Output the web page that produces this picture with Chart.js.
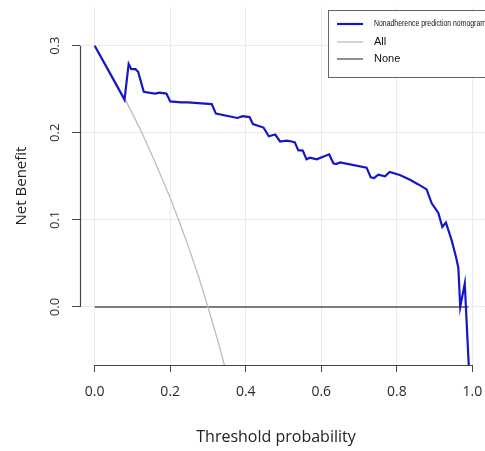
<!DOCTYPE html>
<html>
<head>
<meta charset="utf-8">
<script src="https://cdn.jsdelivr.net/npm/chart.js@4.4.1/dist/chart.umd.min.js"></script>
<style>
  html, body { margin: 0; padding: 0; background: #fff; }
  #wrap { width: 485px; height: 451px; }
</style>
</head>
<body>
<div id="wrap"><canvas id="dca"></canvas></div>
<script>
// threshold probabilities and net benefit
const nomoX = [0, 0.079, 0.090, 0.097, 0.108, 0.115, 0.130, 0.159, 0.172, 0.190, 0.200, 0.229, 0.247, 0.274,
  0.310, 0.321, 0.378, 0.392, 0.410, 0.419, 0.447, 0.461, 0.478, 0.491, 0.508, 0.522, 0.530, 0.539, 0.551,
  0.561, 0.570, 0.588, 0.621, 0.632, 0.639, 0.650, 0.720, 0.731, 0.740, 0.751, 0.769, 0.781, 0.808, 0.835,
  0.856, 0.879, 0.8925, 0.910, 0.9206, 0.930, 0.945, 0.957, 0.963, 0.968, 0.980, 0.9915];
const nomoY = [0.300, 0.238, 0.279, 0.273, 0.273, 0.270, 0.247, 0.245, 0.246, 0.245, 0.236, 0.235, 0.235, 0.234,
  0.233, 0.222, 0.217, 0.219, 0.218, 0.210, 0.206, 0.196, 0.198, 0.190, 0.191, 0.190, 0.189, 0.180, 0.1795,
  0.1695, 0.1714, 0.1695, 0.1753, 0.165, 0.164, 0.166, 0.160, 0.149, 0.148, 0.152, 0.150, 0.155, 0.1515, 0.146,
  0.141, 0.135, 0.119, 0.108, 0.092, 0.097, 0.077, 0.057, 0.045, 0.000, 0.027, -0.075];

const allX = [0, 0.025, 0.05, 0.075, 0.1, 0.125, 0.15, 0.175, 0.2, 0.225, 0.25, 0.275, 0.3, 0.325, 0.35];
const allY = [0.300, 0.282, 0.263, 0.243, 0.222, 0.200, 0.176, 0.151, 0.125, 0.097, 0.067, 0.035, 0.000, -0.037, -0.077];

const noneX = [0, 0.99];
const noneY = [0, 0];

const labels = ['Nonadherence prediction nomogram', 'All', 'None'];
const xTicks = [0, 0.2, 0.4, 0.6, 0.8, 1.0];
const yTicks = [0, 0.1, 0.2, 0.3];

const pts = (xs, ys) => xs.map((v, i) => ({ x: v, y: ys[i] }));

// R style axes: lines only between first and last tick, rotated y labels, boxed legend
const rStyle = {
  id: 'rStyle',
  afterDraw(chart) {
    const { ctx, chartArea, scales: { x, y } } = chart;
    ctx.save();
    ctx.strokeStyle = '#444';
    ctx.lineWidth = 1.2;
    ctx.beginPath();
    ctx.moveTo(x.getPixelForValue(xTicks[0]), chartArea.bottom + 0.5);
    ctx.lineTo(x.getPixelForValue(xTicks[xTicks.length - 1]), chartArea.bottom + 0.5);
    ctx.moveTo(chartArea.left + 0.5, y.getPixelForValue(yTicks[0]));
    ctx.lineTo(chartArea.left + 0.5, y.getPixelForValue(yTicks[yTicks.length - 1]));
    ctx.stroke();

    ctx.fillStyle = '#2a2a2a';
    ctx.font = '13px "Open Sans"';
    ctx.textAlign = 'center';
    ctx.textBaseline = 'middle';
    yTicks.forEach(v => {
      ctx.save();
      ctx.translate(55, y.getPixelForValue(v));
      ctx.rotate(-Math.PI / 2);
      ctx.fillText(v.toFixed(1), 0, 0);
      ctx.restore();
    });

    // x axis title
    ctx.fillStyle = '#222';
    ctx.font = '16px "Open Sans"';
    ctx.fillText('Threshold probability', 276, 437);

    // legend
    ctx.fillStyle = '#fff';
    ctx.fillRect(328.5, 10.5, 170, 67);
    ctx.strokeStyle = '#666';
    ctx.lineWidth = 1;
    ctx.strokeRect(328.5, 10.5, 170, 67);
    const rows = [24, 42, 59];
    chart.data.datasets.forEach((ds, i) => {
      ctx.strokeStyle = ds.borderColor;
      ctx.lineWidth = ds.borderWidth;
      ctx.beginPath();
      ctx.moveTo(337, rows[i]);
      ctx.lineTo(363, rows[i]);
      ctx.stroke();
      ctx.fillStyle = '#111';
      ctx.textAlign = 'left';
      if (i === 0) {
        ctx.font = '9px "Liberation Sans"';
        const w = ctx.measureText(ds.label).width;
        ctx.save();
        ctx.translate(374, rows[i]);
        ctx.scale(112 / w, 1);
        ctx.fillText(ds.label, 0, 0);
        ctx.restore();
      } else {
        ctx.font = '11px "Liberation Sans"';
        ctx.fillText(ds.label, 374, rows[i]);
      }
    });
    ctx.restore();
  }
};

new Chart(document.getElementById('dca'), {
  type: 'line',
  data: {
    datasets: [
      {
        label: labels[0],
        data: pts(nomoX, nomoY),
        borderColor: '#1616c8',
        borderWidth: 2.2,
        pointRadius: 0,
        tension: 0
      },
      {
        label: labels[1],
        data: pts(allX, allY),
        borderColor: '#bdbdbd',
        borderWidth: 1.3,
        pointRadius: 0,
        tension: 0
      },
      {
        label: labels[2],
        data: pts(noneX, noneY),
        borderColor: '#555',
        borderWidth: 1.3,
        pointRadius: 0,
        tension: 0
      }
    ]
  },
  options: {
    responsive: true,
    maintainAspectRatio: false,
    animation: false,
    layout: { padding: { top: 7, left: 0, right: 0, bottom: 0 } },
    plugins: { legend: { display: false }, tooltip: { enabled: false } },
    scales: {
      x: {
        type: 'linear',
        min: -0.0389,
        max: 1.0336,
        afterBuildTicks: s => { s.ticks = xTicks.map(v => ({ value: v })); },
        afterFit: s => { s.height = 86; s.paddingLeft = 0; s.paddingRight = 0; },
        border: { display: false },
        grid: { color: '#ebebeb', tickColor: '#444', tickLength: 7 },
        ticks: {
          color: '#2a2a2a',
          font: { family: 'Open Sans', size: 14 },
          padding: 12,
          maxRotation: 0,
          callback: v => v.toFixed(1)
        },
        title: { display: false }
      },
      y: {
        type: 'linear',
        min: -0.0666,
        max: 0.3444,
        afterBuildTicks: s => { s.ticks = yTicks.map(v => ({ value: v })); },
        afterFit: s => { s.width = 80; s.paddingTop = 0; s.paddingBottom = 0; },
        border: { display: false },
        grid: { color: '#ebebeb', tickColor: '#444', tickLength: 8 },
        ticks: { color: 'rgba(0,0,0,0)', font: { size: 13 } },
        title: {
          display: true,
          text: 'Net Benefit',
          color: '#222',
          font: { family: 'Open Sans', size: 15 },
          padding: { top: 13, bottom: 0 }
        }
      }
    }
  },
  plugins: [rStyle]
});
</script>
</body>
</html>
